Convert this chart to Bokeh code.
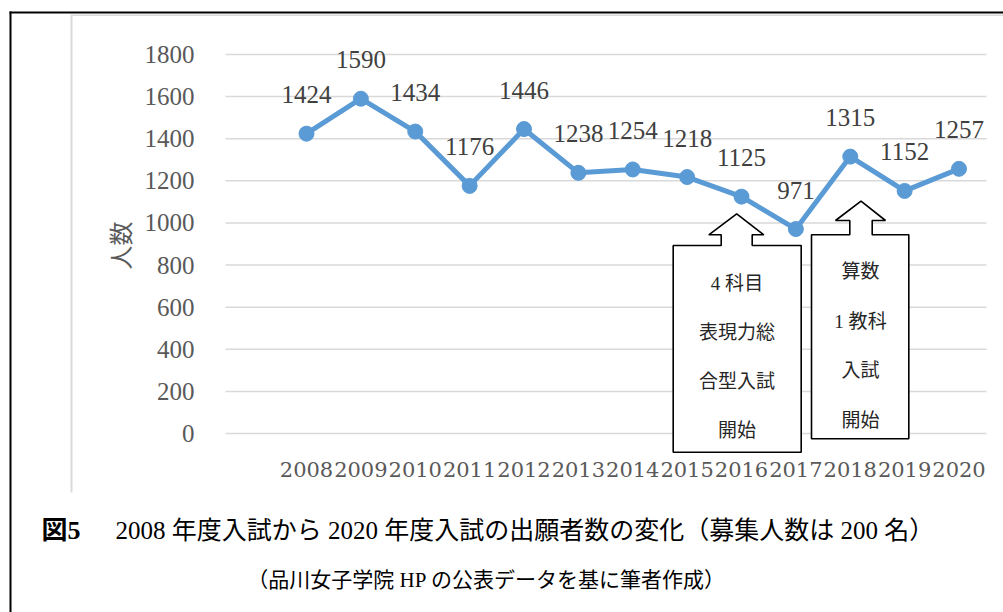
import math
from bokeh.plotting import figure
from bokeh.models import FixedTicker, LinearAxis, Range1d
from bokeh.core.properties import value
from bokeh.embed import file_html
from bokeh.resources import INLINE

# ---------------- data ----------------
years = [2008, 2009, 2010, 2011, 2012, 2013, 2014, 2015, 2016, 2017, 2018, 2019, 2020]
applicants = [1424, 1590, 1434, 1176, 1446, 1238, 1254, 1218, 1125, 971, 1315, 1152, 1257]
year_labels = [str(y) for y in years]
y_ticks = [0, 200, 400, 600, 800, 1000, 1200, 1400, 1600, 1800]
y_axis_title = "人数"
fig_label = "図5"
caption = "2008 年度入試から 2020 年度入試の出願者数の変化（募集人数は 200 名）"
note = "（品川女子学院 HP の公表データを基に筆者作成）"
callout_a_lines = ["4 科目", "表現力総", "合型入試", "開始"]
callout_b_lines = ["算数", "1 教科", "入試", "開始"]

# ---------------- layout (frame = whole canvas) ----------------
W, H = 1003, 612
PX_2008, PX_STEP = 306.0, 54.375       # x pixel of first category, pixel per category
PY_ZERO, PX_PER_UNIT = 433.0, 379.0 / 1800.0
X0 = 2008 - PX_2008 / PX_STEP
X1 = 2008 + (W - PX_2008) / PX_STEP
Y1 = PY_ZERO / PX_PER_UNIT
Y0 = (PY_ZERO - H) / PX_PER_UNIT

def dx(px):
    return X0 + px / W * (X1 - X0)

def dy(py):
    return Y1 - py / H * (Y1 - Y0)

SERIF_JP = "Liberation Serif, Noto Sans CJK JP"

p = figure(width=W, height=H, x_range=Range1d(X0, X1), y_range=Range1d(Y0, Y1),
           x_axis_type=None, y_axis_type=None, min_border=0,
           output_backend="svg", toolbar_location=None, title=None)
p.outline_line_color = None
p.background_fill_color = "white"
p.border_fill_color = "white"

# outer black border (left + top) and grey chart-area edges
p.quad(left=[dx(9), dx(9)], right=[dx(11), dx(W + 20)],
       top=[dy(11), dy(11)], bottom=[dy(H + 20), dy(13)],
       fill_color="black", line_color=None)
p.quad(left=[dx(70), dx(71)], right=[dx(72), dx(W + 20)],
       top=[dy(14), dy(14)], bottom=[dy(492), dy(15.5)],
       fill_color="#DADADA", line_color=None)

# horizontal gridlines
p.segment(x0=dx(225), x1=dx(986), y0=y_ticks, y1=y_ticks,
          line_color="#D9D9D9", line_width=1.5)

# axes placed inside the frame
xaxis = LinearAxis(ticker=FixedTicker(ticks=years), fixed_location=dy(455),
                   major_label_overrides={y: s for y, s in zip(years, year_labels)})
yaxis = LinearAxis(ticker=FixedTicker(ticks=y_ticks), fixed_location=dx(225))
for ax in (xaxis, yaxis):
    ax.axis_line_color = None
    ax.major_tick_line_color = None
    ax.minor_tick_line_color = None
    ax.major_label_text_color = "#595959"
xaxis.major_label_text_font = "DejaVu Serif"
xaxis.major_label_text_font_size = "21px"
xaxis.major_label_standoff = 0
yaxis.major_label_text_font = "Liberation Serif"
yaxis.major_label_text_font_size = "25px"
yaxis.major_label_standoff = 25
p.add_layout(xaxis, "below")
p.add_layout(yaxis, "left")

# y-axis title (rotated, placed beside the value axis)
p.text(x=[dx(119)], y=[dy(245)], text=[y_axis_title], angle=math.pi / 2,
       text_align="center", text_baseline="middle",
       text_font=value("Noto Sans CJK JP"), text_font_size="24px", text_color="#595959")

# callout arrows (white boxes with upward arrows)
def callout(l, r, top, bottom, sl, sr, base, hl, hr, tipx, tipy):
    pts = [(l, bottom), (l, top), (sl, top), (sl, base), (hl, base), (tipx, tipy),
           (hr, base), (sr, base), (sr, top), (r, top), (r, bottom)]
    return [dx(a) for a, _ in pts], [dy(b) for _, b in pts]

ax_, ay_ = callout(672.7, 800.7, 245, 451.7, 720.7, 751.7, 234.3, 708.3, 763.3, 736.2, 213.3)
bx_, by_ = callout(811, 908.3, 234.3, 438.3, 849.3, 871.7, 220, 835, 885, 860.5, 200.7)
for xs, ys in ((ax_, ay_), (bx_, by_)):
    p.patch(xs, ys, fill_color="white", line_color="black", line_width=1.6)

p.text(x=[dx(736.5)] * len(callout_a_lines),
       y=[dy(283 + 49 * i) for i in range(len(callout_a_lines))],
       text=callout_a_lines, text_align="center", text_baseline="middle",
       text_font=value(SERIF_JP), text_font_size="19px", text_color="#262626")
p.text(x=[dx(860)] * len(callout_b_lines),
       y=[dy(271 + 49.7 * i) for i in range(len(callout_b_lines))],
       text=callout_b_lines, text_align="center", text_baseline="middle",
       text_font=value(SERIF_JP), text_font_size="19px", text_color="#262626")

# series
p.line(years, applicants, line_color="#5B9BD5", line_width=5)
p.scatter(years, applicants, size=15, fill_color="#5B9BD5", line_color="#5B9BD5")
p.text(x=years, y=applicants, text=[str(v) for v in applicants],
       text_align="center", text_baseline="middle", y_offset=-39,
       text_font=value("Liberation Serif"), text_font_size="25px", text_color="#404040")

# captions
p.text(x=[dx(41)], y=[dy(530)], text=[fig_label], text_font=value(SERIF_JP),
       text_font_style="bold", text_font_size="26px",
       text_baseline="middle", text_align="left", text_color="black")
p.text(x=[dx(115)], y=[dy(530)], text=[caption], text_font=value(SERIF_JP),
       text_font_size="25px", text_baseline="middle", text_align="left",
       text_color="black")
p.text(x=[dx(486)], y=[dy(579)], text=[note], text_font=value(SERIF_JP),
       text_font_size="21px", text_baseline="middle", text_align="center",
       text_color="black")

open("out.html", "w").write(file_html(p, INLINE))
